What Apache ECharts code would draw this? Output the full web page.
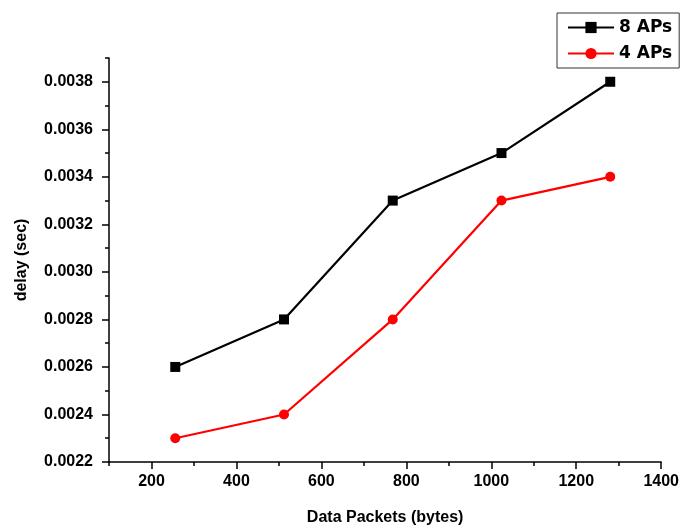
<!DOCTYPE html>
<html>
<head>
<meta charset="utf-8">
<script src="https://cdn.jsdelivr.net/npm/echarts@6/dist/echarts.min.js"></script>
<style>html,body{margin:0;padding:0;background:#fff}#c{width:682px;height:531px}</style>
</head>
<body>
<div id="c"></div>
<script>
var packetSizes = [256, 512, 768, 1024, 1280];
var delay8APs = [0.0026, 0.0028, 0.0033, 0.0035, 0.0038];
var delay4APs = [0.0023, 0.0024, 0.0028, 0.0033, 0.0034];
var xMajorTicks = [200, 400, 600, 800, 1000, 1200, 1400];
var xMinorTicks = [100, 300, 500, 700, 900, 1100, 1300];
var yMajorTicks = [0.0022, 0.0024, 0.0026, 0.0028, 0.0030, 0.0032, 0.0034, 0.0036, 0.0038];
var yMinorTicks = [0.0023, 0.0025, 0.0027, 0.0029, 0.0031, 0.0033, 0.0035, 0.0037, 0.0039];

var chart = echarts.init(document.getElementById('c'));
var tickFont = {fontFamily: 'Liberation Sans', fontWeight: 'bold', fontSize: 16, color: '#000'};
var axisLineStyle = {color: '#000', width: 1.5};
function pair(list, v) { return list.map(function (x, i) { return [x, v[i]]; }); }

chart.setOption({
  animation: false,
  backgroundColor: '#fff',
  grid: {left: 109, right: 20, top: 58, bottom: 66, containLabel: false},
  legend: {
    left: 557, top: 13, orient: 'vertical',
    padding: [6, 7, 6, 10], itemGap: 9, itemWidth: 46, itemHeight: 14,
    borderColor: '#333', borderWidth: 1,
    textStyle: {fontFamily: 'DejaVu Sans', fontWeight: 'bold', fontSize: 17, color: '#000'},
    data: ['8 APs', '4 APs']
  },
  xAxis: [{
    type: 'value', min: 100, max: 1400, interval: 100,
    name: 'Data Packets (bytes)', nameLocation: 'middle', nameGap: 48,
    nameTextStyle: {fontFamily: 'Liberation Sans', fontWeight: 'bold', fontSize: 16, color: '#000'},
    axisLine: {show: true, lineStyle: axisLineStyle},
    axisTick: {show: true, length: 7, customValues: xMajorTicks, lineStyle: axisLineStyle},
    axisLabel: Object.assign({margin: 12, customValues: xMajorTicks, formatter: function (v) { return String(v); }}, tickFont),
    splitLine: {show: false}
  }, {
    type: 'value', min: 100, max: 1400, interval: 100, position: 'bottom',
    axisLine: {show: false},
    axisTick: {show: true, length: 4, customValues: xMinorTicks, lineStyle: axisLineStyle},
    axisLabel: {show: false},
    splitLine: {show: false}
  }],
  yAxis: [{
    type: 'value', min: 0.0022, max: 0.0039,
    name: 'delay (sec)', nameLocation: 'middle', nameGap: 79, nameRotate: 90,
    nameTextStyle: {fontFamily: 'Liberation Sans', fontWeight: 'bold', fontSize: 16, color: '#000'},
    axisLine: {show: true, lineStyle: axisLineStyle},
    axisTick: {show: true, length: 7, customValues: yMajorTicks, lineStyle: axisLineStyle},
    axisLabel: Object.assign({margin: 16, customValues: yMajorTicks, formatter: function (v) { return v.toFixed(4); }}, tickFont),
    splitLine: {show: false}
  }, {
    type: 'value', min: 0.0022, max: 0.0039, position: 'left',
    axisLine: {show: false},
    axisTick: {show: true, length: 4, customValues: yMinorTicks, lineStyle: axisLineStyle},
    axisLabel: {show: false},
    splitLine: {show: false}
  }],
  series: [{
    name: '8 APs', type: 'line', data: pair(packetSizes, delay8APs),
    symbol: 'rect', symbolSize: 10, color: '#000',
    lineStyle: {color: '#000', width: 2.2}, itemStyle: {color: '#000'}
  }, {
    name: '4 APs', type: 'line', data: pair(packetSizes, delay4APs),
    symbol: 'circle', symbolSize: 10, color: '#ff0000',
    lineStyle: {color: '#ff0000', width: 2.2}, itemStyle: {color: '#ff0000'}
  }]
});
</script>
</body>
</html>
